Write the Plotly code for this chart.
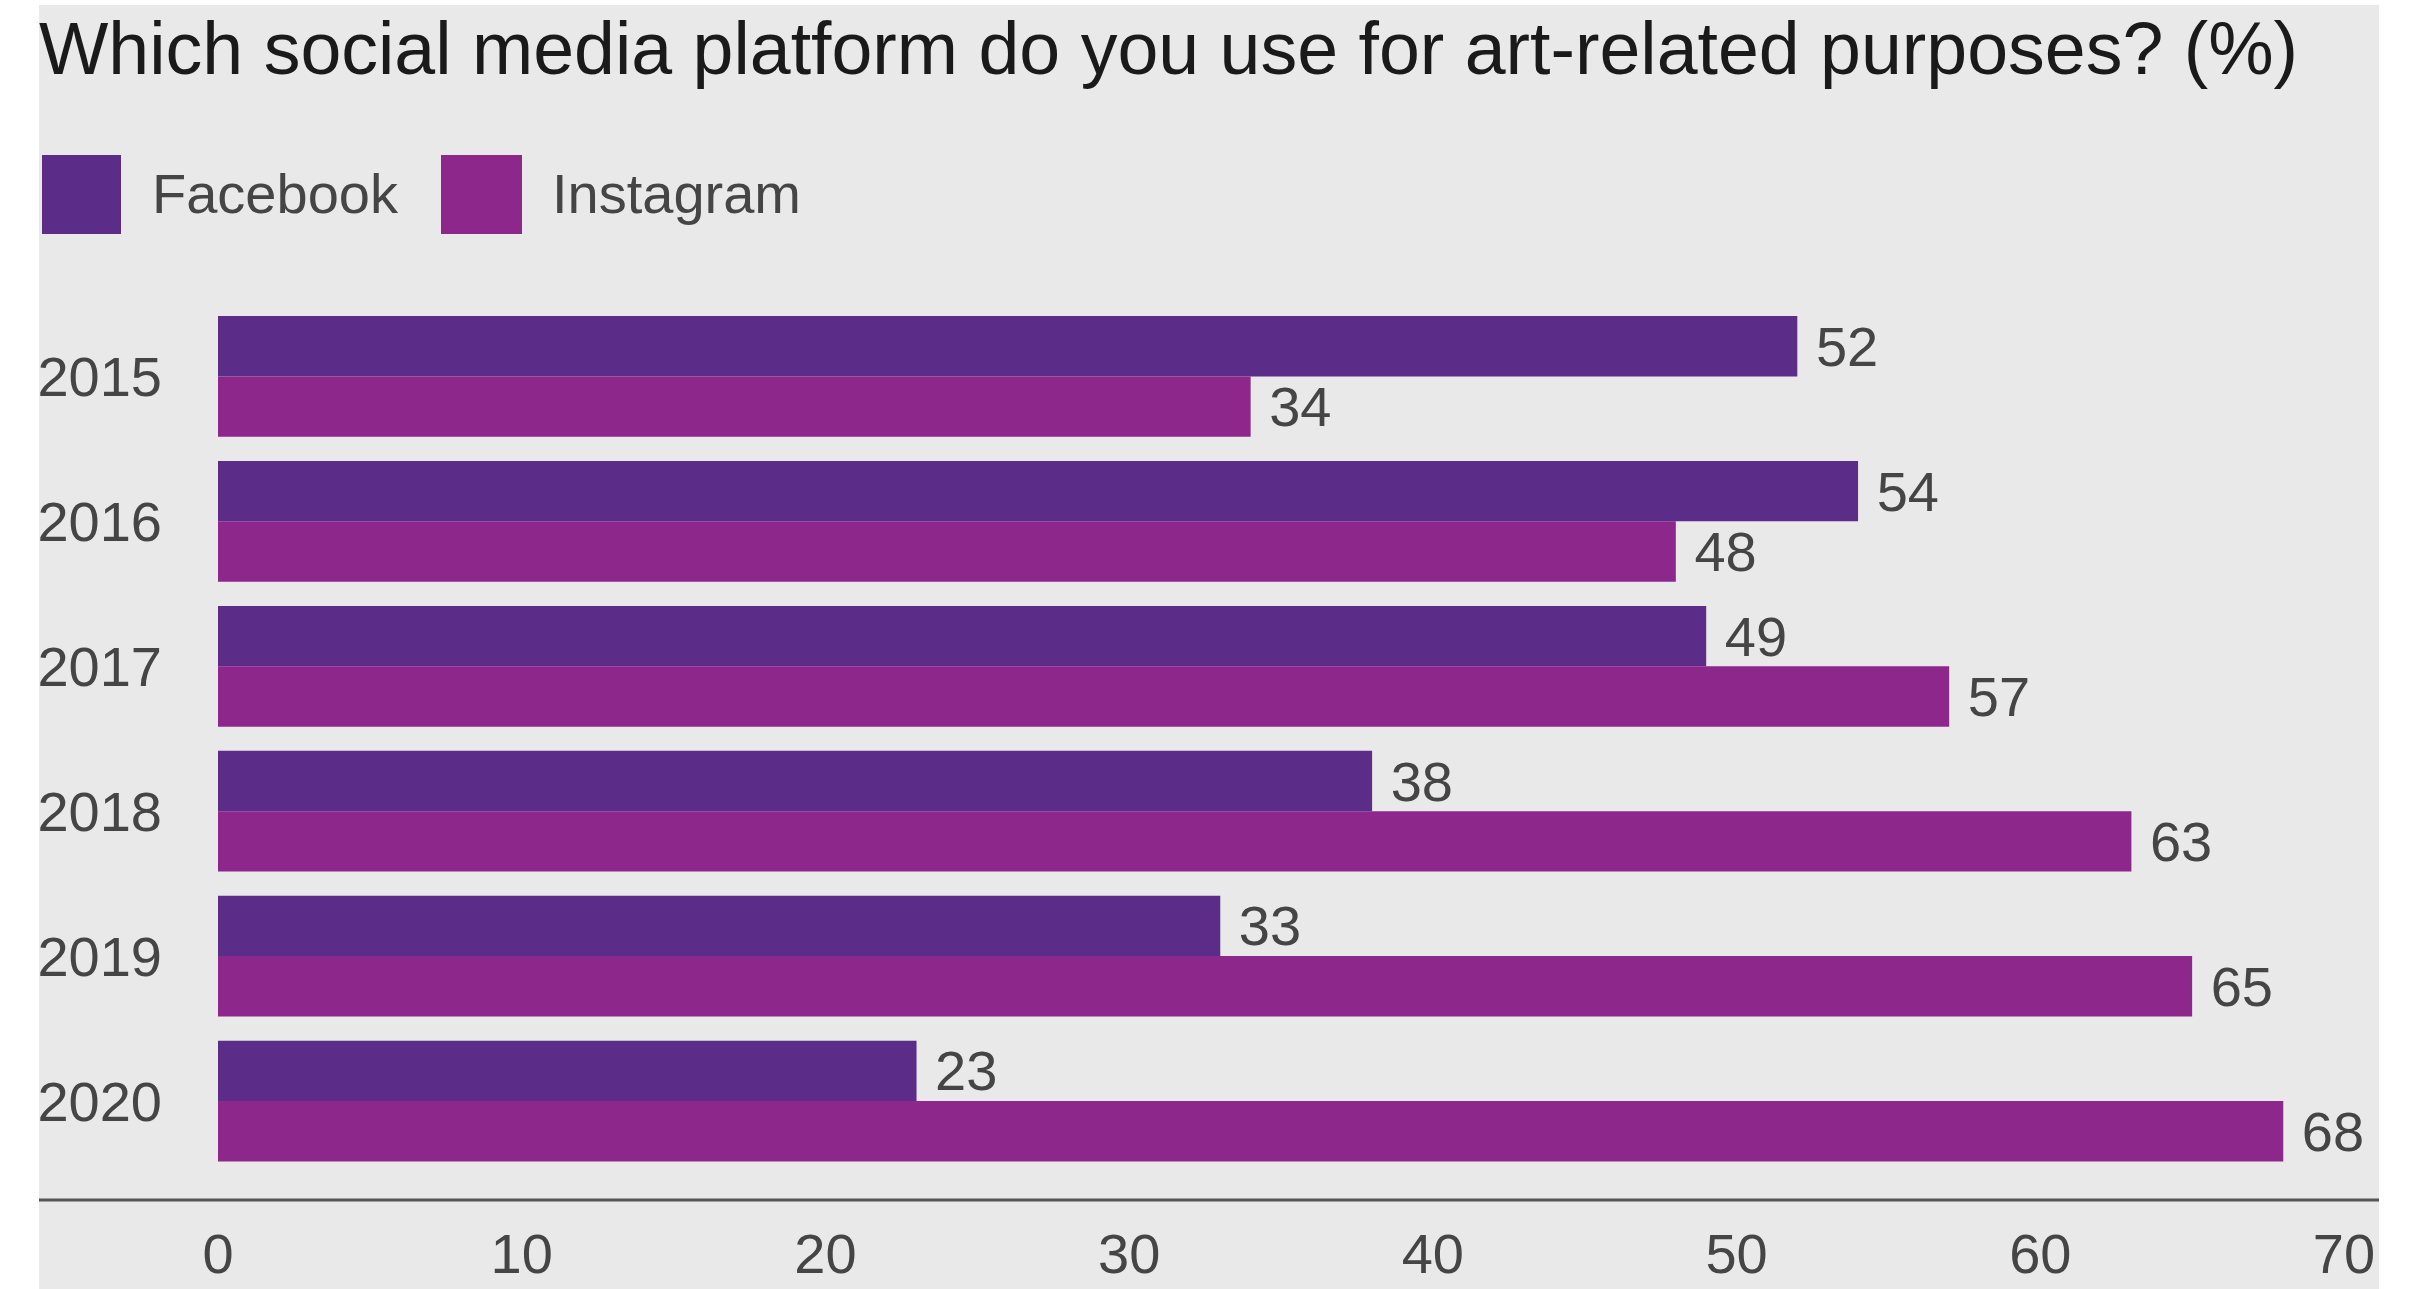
import plotly.graph_objects as go

years = ["2015", "2016", "2017", "2018", "2019", "2020"]
facebook = [52, 54, 49, 38, 33, 23]
instagram = [34, 48, 57, 63, 65, 68]
x_ticks = [0, 10, 20, 30, 40, 50, 60, 70]
title_text = "Which social media platform do you use for art-related purposes? (%)"

W, H = 2427, 1289
L, R, T, B = 218, 2344, 304, 1200  # plot area in pixels

def px(x):
    return (x - L) / (R - L)

def py(y):
    return (B - y) / (B - T)

FB_COLOR = "#5B2D89"
IG_COLOR = "#8D278B"
FONT = "Liberation Sans, Arial, sans-serif"
TXT = "#454545"

fig = go.Figure()
fig.add_trace(go.Bar(
    y=years, x=facebook, name="Facebook", orientation="h",
    marker=dict(color=FB_COLOR, line=dict(width=0)),
    text=facebook, texttemplate="\u00a0%{x}", textposition="outside",
    textfont=dict(size=56, color=TXT, family=FONT), cliponaxis=False,
    constraintext="none",
))
fig.add_trace(go.Bar(
    y=years, x=instagram, name="Instagram", orientation="h",
    marker=dict(color=IG_COLOR, line=dict(width=0)),
    text=instagram, texttemplate="\u00a0%{x}", textposition="outside",
    textfont=dict(size=56, color=TXT, family=FONT), cliponaxis=False,
    constraintext="none",
))

shapes = [
    # gray panel
    dict(type="rect", xref="paper", yref="paper", x0=px(39), x1=px(2379),
         y0=py(1289), y1=py(5), fillcolor="#E9E9E9", line=dict(width=0), layer="below"),
    # axis line
    dict(type="line", xref="paper", yref="paper", x0=px(39), x1=px(2379),
         y0=0, y1=0, line=dict(color="#555555", width=3)),
    # legend swatches
    dict(type="rect", xref="paper", yref="paper", x0=px(42), x1=px(121),
         y0=py(234), y1=py(155), fillcolor=FB_COLOR, line=dict(width=0)),
    dict(type="rect", xref="paper", yref="paper", x0=px(441), x1=px(522),
         y0=py(234), y1=py(155), fillcolor=IG_COLOR, line=dict(width=0)),
]

annotations = [
    dict(text="Facebook", xref="paper", yref="paper", x=px(150), y=py(194),
         xanchor="left", yanchor="middle", showarrow=False,
         font=dict(size=56, color=TXT, family=FONT)),
    dict(text="Instagram", xref="paper", yref="paper", x=px(550), y=py(194),
         xanchor="left", yanchor="middle", showarrow=False,
         font=dict(size=56, color=TXT, family=FONT)),
]

fig.update_layout(
    width=W, height=H,
    margin=dict(l=L, r=W - R, t=T, b=H - B, pad=0, autoexpand=False),
    paper_bgcolor="white",
    plot_bgcolor="rgba(0,0,0,0)",
    showlegend=False,
    barmode="group", bargap=0.167, bargroupgap=0,
    title=dict(text=title_text, xref="container", x=39 / W, xanchor="left",
               yref="container", y=1 - 48 / H, yanchor="middle",
               font=dict(size=73.5, color="#1A1A1A", family=FONT)),
    shapes=shapes,
    annotations=annotations,
    xaxis=dict(range=[0, 70], tickvals=x_ticks, showgrid=False, zeroline=False,
               showline=False, ticks="", ticklabelstandoff=16, automargin=False,
               tickfont=dict(size=56, color=TXT, family=FONT)),
    yaxis=dict(type="category", categoryorder="array", categoryarray=years,
               range=[5.683, -0.5], showgrid=False, zeroline=False, showline=False,
               ticks="", ticklabelstandoff=55, automargin=False,
               tickfont=dict(size=56, color=TXT, family=FONT)),
)

fig.write_html("out.html")
